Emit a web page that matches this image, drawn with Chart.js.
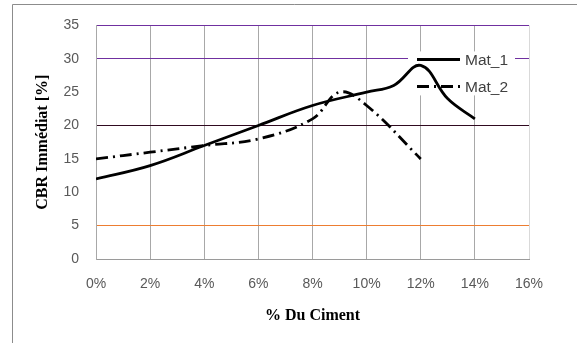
<!DOCTYPE html>
<html>
<head>
<meta charset="utf-8">
<script src="https://cdn.jsdelivr.net/npm/chart.js@4/dist/chart.umd.min.js"></script>
<style>
  html, body { margin: 0; padding: 0; background: #ffffff; }
  #wrap { width: 577px; height: 343px; position: relative; }
</style>
</head>
<body>
<div id="wrap"><canvas id="c" width="577" height="343"></canvas></div>
<script>
// Cement content (%) and immediate CBR (%) for each material
const cimentMat1 = [0, 2, 4, 6, 8, 10, 11, 12, 13, 14];
const cbrMat1    = [12, 14, 17, 20, 23, 25, 26, 29, 24, 21];
const cimentMat2 = [0, 2, 4, 6, 8, 9, 10, 12];
const cbrMat2    = [15, 16, 17, 18, 21, 25, 23, 15];
const seriesNames = ['Mat_1', 'Mat_2'];
const xTickValues = [0, 2, 4, 6, 8, 10, 12, 14, 16];
const yTickValues = [0, 5, 10, 15, 20, 25, 30, 35];
const xTitle = '% Du Ciment';
const yTitle = 'CBR Immédiat [%]';

const toPoints = (xs, ys) => xs.map((x, i) => ({ x: x, y: ys[i] }));

const MAT2_DASH = [12, 5, 2, 5];

// Horizontal gridline colours by level
function yGridColor(ctx) {
  const v = ctx.tick ? ctx.tick.value : null;
  if (v === 35 || v === 30) return '#7030A0';
  if (v === 20) return '#300a20';
  if (v === 5) return '#ED7D31';
  if (v === 0) return '#9a9a9a';
  return 'rgba(0,0,0,0)';
}
function xGridColor(ctx) {
  const v = ctx.tick ? ctx.tick.value : null;
  if (v === 16) return '#d9d9d9';
  return '#a8a8a8';
}

// Outer frame
const framePlugin = {
  id: 'frame',
  beforeDraw(chart) {
    const c = chart.ctx;
    c.save();
    c.fillStyle = '#ffffff';
    c.fillRect(0, 0, chart.width, chart.height);
    c.strokeStyle = '#8c8c8c';
    c.lineWidth = 1;
    c.beginPath();
    c.moveTo(12.5, chart.height);
    c.lineTo(12.5, 4.5);
    c.lineTo(chart.width, 4.5);
    c.stroke();
    c.restore();
  }
};

// Legend inside the plot area, top right
const legendPlugin = {
  id: 'insideLegend',
  beforeDatasetsDraw(chart) {
    const a = chart.chartArea;
    const c = chart.ctx;
    c.save();
    c.fillStyle = '#ffffff';
    c.fillRect(a.right - 121, a.top + 26, 107, 44);
    c.restore();
  },
  afterDraw(chart) {
    const a = chart.chartArea;
    const c = chart.ctx;
    const x0 = a.right - 112;
    const rows = [a.top + 34, a.top + 61];
    c.save();
    chart.data.datasets.forEach((ds, i) => {
      const y = rows[i];
      c.strokeStyle = '#000000';
      c.lineWidth = 3;
      c.setLineDash(ds.borderDash || []);
      c.beginPath();
      c.moveTo(x0, y);
      c.lineTo(x0 + 43, y);
      c.stroke();
      c.setLineDash([]);
      c.fillStyle = '#404040';
      c.font = '15.5px "Liberation Sans", Arial, sans-serif';
      c.textAlign = 'left';
      c.textBaseline = 'middle';
      c.fillText(ds.label, x0 + 48, y + 1);
    });
    c.restore();
  }
};

const tickFont = { family: '"Liberation Sans", Arial, sans-serif', size: 14 };
const titleFont = { family: '"Liberation Serif", "Times New Roman", serif', size: 16, weight: 'bold' };

new Chart(document.getElementById('c'), {
  type: 'line',
  data: {
    datasets: [
      {
        label: seriesNames[0],
        data: toPoints(cimentMat1, cbrMat1),
        borderColor: '#000000',
        borderWidth: 2.8,
        tension: 0.4,
        pointRadius: 0,
        fill: false
      },
      {
        label: seriesNames[1],
        data: toPoints(cimentMat2, cbrMat2),
        borderColor: '#000000',
        borderWidth: 2.8,
        borderDash: MAT2_DASH,
        tension: 0.4,
        pointRadius: 0,
        fill: false
      }
    ]
  },
  options: {
    responsive: false,
    animation: false,
    devicePixelRatio: 1,
    layout: { padding: { left: 0, top: 22, right: 48, bottom: 0 } },
    plugins: {
      legend: { display: false },
      tooltip: { enabled: false }
    },
    scales: {
      x: {
        type: 'linear',
        min: 0,
        max: 16,
        afterBuildTicks(scale) { scale.ticks = xTickValues.map(v => ({ value: v })); },
        afterFit(scale) { scale.height = 84; },
        ticks: {
          font: tickFont,
          color: '#595959',
          padding: 17,
          maxRotation: 0,
          callback: v => v + '%'
        },
        grid: { color: xGridColor, lineWidth: 1, drawTicks: false },
        border: { display: true, color: '#9a9a9a' },
        title: {
          display: true,
          text: xTitle,
          font: titleFont,
          color: '#000000',
          padding: { top: 0, bottom: 18 }
        }
      },
      y: {
        min: 0,
        max: 35,
        afterBuildTicks(scale) { scale.ticks = yTickValues.map(v => ({ value: v })); },
        afterFit(scale) { scale.width = 96; },
        ticks: {
          font: tickFont,
          color: '#595959',
          padding: 17
        },
        grid: { color: yGridColor, lineWidth: 1, drawTicks: false },
        border: { display: true, color: '#a8a8a8' },
        title: {
          display: true,
          text: yTitle,
          font: titleFont,
          color: '#000000',
          padding: { top: 33, bottom: 0 }
        }
      }
    }
  },
  plugins: [framePlugin, legendPlugin]
});
</script>
</body>
</html>
